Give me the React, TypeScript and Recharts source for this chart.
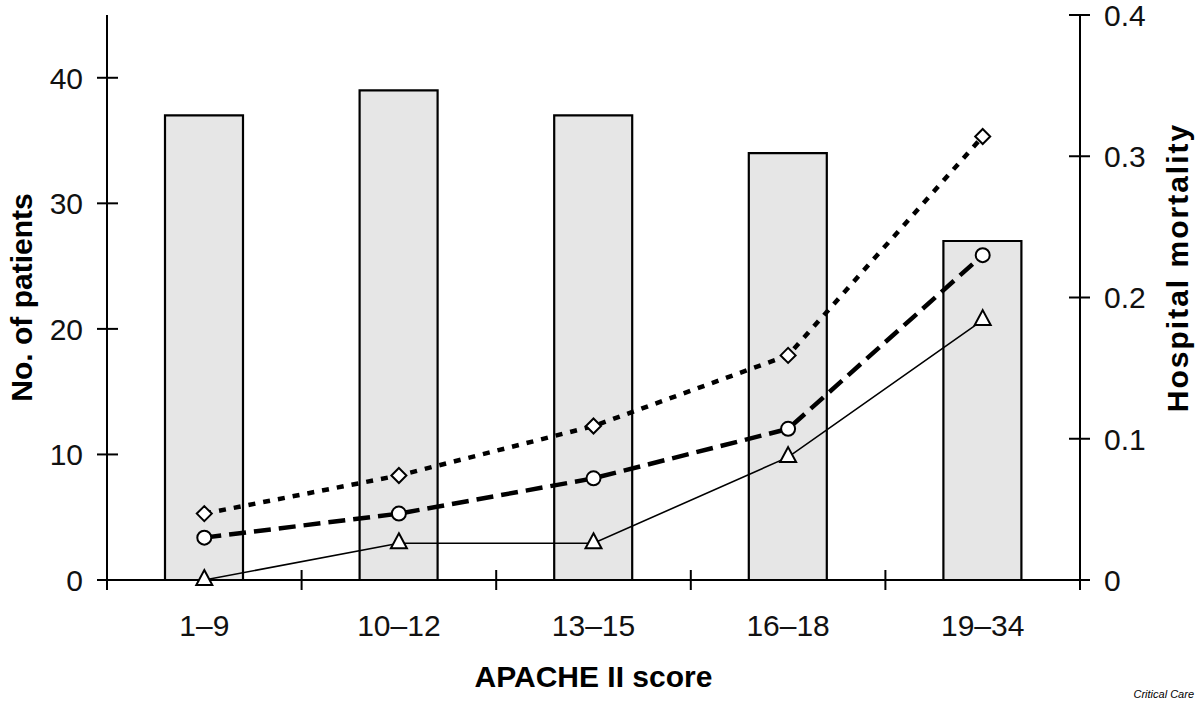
import { ComposedChart, Bar, Line, XAxis, YAxis } from "recharts";

const categories = ["1–9", "10–12", "13–15", "16–18", "19–34"];
const patients = [37, 39, 37, 34, 27];
const mortalityDiamond = [0.047, 0.074, 0.109, 0.159, 0.314];
const mortalityCircle = [0.03, 0.047, 0.072, 0.107, 0.23];
const mortalityTriangle = [0, 0.026, 0.026, 0.087, 0.184];
const leftTicks = [0, 10, 20, 30, 40];
const rightTicks = [0, 0.1, 0.2, 0.3, 0.4];

const data = categories.map((category, i) => ({
  category,
  patients: patients[i],
  diamond: mortalityDiamond[i],
  circle: mortalityCircle[i],
  triangle: mortalityTriangle[i],
}));

const FONT = '"Liberation Sans", Arial, sans-serif';
const TICK = 10;
const GAP = 14;

function LeftTick(props: any) {
  const { x, y, payload } = props;
  const ax = x + TICK + GAP;
  return (
    <g>
      <line x1={ax - 10} x2={ax + 11} y1={y} y2={y} stroke="#000" strokeWidth={2} />
      <text x={x} y={y} dy="0.36em" textAnchor="end" fontSize={30} fontFamily={FONT} fill="#111">
        {payload.value}
      </text>
    </g>
  );
}

function RightTick(props: any) {
  const { x, y, payload } = props;
  const ax = x - TICK - GAP;
  return (
    <g>
      <line x1={ax - 11} x2={ax + 10} y1={y} y2={y} stroke="#000" strokeWidth={2} />
      <text x={x} y={y} dy="0.36em" textAnchor="start" fontSize={30} fontFamily={FONT} fill="#111">
        {payload.value}
      </text>
    </g>
  );
}

function BottomTick(props: any) {
  const { x, y, payload, index, visibleTicksCount } = props;
  const ay = y - TICK - GAP;
  const half = payload.offset ?? 97;
  const last = index === visibleTicksCount - 1;
  return (
    <g>
      <line x1={x - half} x2={x - half} y1={ay - 10} y2={ay + 10} stroke="#000" strokeWidth={2} />
      {last && <line x1={x + half} x2={x + half} y1={ay - 10} y2={ay + 10} stroke="#000" strokeWidth={2} />}
      <text x={x} y={ay + 45} dy="0.36em" textAnchor="middle" fontSize={30} fontFamily={FONT} fill="#111">
        {payload.value}
      </text>
    </g>
  );
}

const diamondDot = (p: any) => (
  <path
    key={`d-${p.index}`}
    d={`M${p.cx},${p.cy - 7.5} L${p.cx + 7.5},${p.cy} L${p.cx},${p.cy + 7.5} L${p.cx - 7.5},${p.cy} Z`}
    fill="#fff"
    stroke="#000"
    strokeWidth={2}
  />
);

const circleDot = (p: any) => (
  <circle key={`c-${p.index}`} cx={p.cx} cy={p.cy} r={7} fill="#fff" stroke="#000" strokeWidth={2} />
);

const triangleDot = (p: any) => (
  <path
    key={`t-${p.index}`}
    d={`M${p.cx},${p.cy - 10} L${p.cx + 8},${p.cy + 5} L${p.cx - 8},${p.cy + 5} Z`}
    fill="#fff"
    stroke="#000"
    strokeWidth={2}
  />
);

export default function App() {
  return (
    <div style={{ position: "absolute", left: 0, top: 0, width: 1200, height: 704, background: "#fff" }}>
      <ComposedChart
        width={1200}
        height={704}
        data={data}
        margin={{ top: 15, right: 60, bottom: 64, left: 47 }}
      >
        <XAxis
          dataKey="category"
          height={60}
          axisLine={{ stroke: "#000", strokeWidth: 2 }}
          tickLine={false}
          tickSize={TICK}
          tickMargin={GAP}
          tick={(p: any) => <BottomTick {...p} />}
          label={{
            content: (p: any) => {
              const vb = p.viewBox;
              return (
                <text
                  x={vb.x + vb.width / 2}
                  y={vb.y + 107}
                  textAnchor="middle"
                  fontSize={30}
                  fontWeight="bold"
                  fontFamily={FONT}
                  fill="#000"
                >
                  APACHE II score
                </text>
              );
            },
          }}
        />
        <YAxis
          yAxisId="left"
          width={60}
          domain={[0, 45]}
          ticks={leftTicks}
          allowDataOverflow
          axisLine={{ stroke: "#000", strokeWidth: 2 }}
          tickLine={false}
          tickSize={TICK}
          tickMargin={GAP}
          tick={(p: any) => <LeftTick {...p} />}
          label={{
            content: (p: any) => {
              const vb = p.viewBox;
              const cx = vb.x - 15;
              const cy = vb.y + vb.height / 2;
              return (
                <text
                  x={cx}
                  y={cy}
                  transform={`rotate(-90, ${cx}, ${cy})`}
                  textAnchor="middle"
                  fontSize={30}
                  fontWeight="bold"
                  fontFamily={FONT}
                  fill="#000"
                >
                  No. of patients
                </text>
              );
            },
          }}
        />
        <YAxis
          yAxisId="right"
          orientation="right"
          width={60}
          domain={[0, 0.4]}
          ticks={rightTicks}
          axisLine={{ stroke: "#000", strokeWidth: 2 }}
          tickLine={false}
          tickSize={TICK}
          tickMargin={GAP}
          tick={(p: any) => <RightTick {...p} />}
          label={{
            content: (p: any) => {
              const vb = p.viewBox;
              const cx = vb.x + 108;
              const cy = vb.y + vb.height / 2 - 30;
              return (
                <text
                  x={cx}
                  y={cy}
                  transform={`rotate(-90, ${cx}, ${cy})`}
                  textAnchor="middle"
                  fontSize={30}
                  fontWeight="bold"
                  fontFamily={FONT}
                  letterSpacing={2}
                  fill="#000"
                >
                  Hospital mortality
                </text>
              );
            },
          }}
        />
        <Bar
          yAxisId="left"
          dataKey="patients"
          barSize={78}
          fill="#e6e6e6"
          stroke="#000"
          strokeWidth={2.2}
          isAnimationActive={false}
        />
        <Line
          yAxisId="right"
          dataKey="triangle"
          stroke="#000"
          strokeWidth={1.6}
          dot={triangleDot}
          activeDot={false}
          isAnimationActive={false}
        />
        <Line
          yAxisId="right"
          dataKey="circle"
          stroke="#000"
          strokeWidth={4.5}
          strokeDasharray="17 8"
          dot={circleDot}
          activeDot={false}
          isAnimationActive={false}
        />
        <Line
          yAxisId="right"
          dataKey="diamond"
          stroke="#000"
          strokeWidth={4.5}
          strokeDasharray="7 8"
          dot={diamondDot}
          activeDot={false}
          isAnimationActive={false}
        />
      </ComposedChart>
      <div
        style={{
          position: "absolute",
          right: 6,
          top: 688,
          fontFamily: FONT,
          fontStyle: "italic",
          fontSize: 11,
          color: "#000",
        }}
      >
        Critical Care
      </div>
    </div>
  );
}
